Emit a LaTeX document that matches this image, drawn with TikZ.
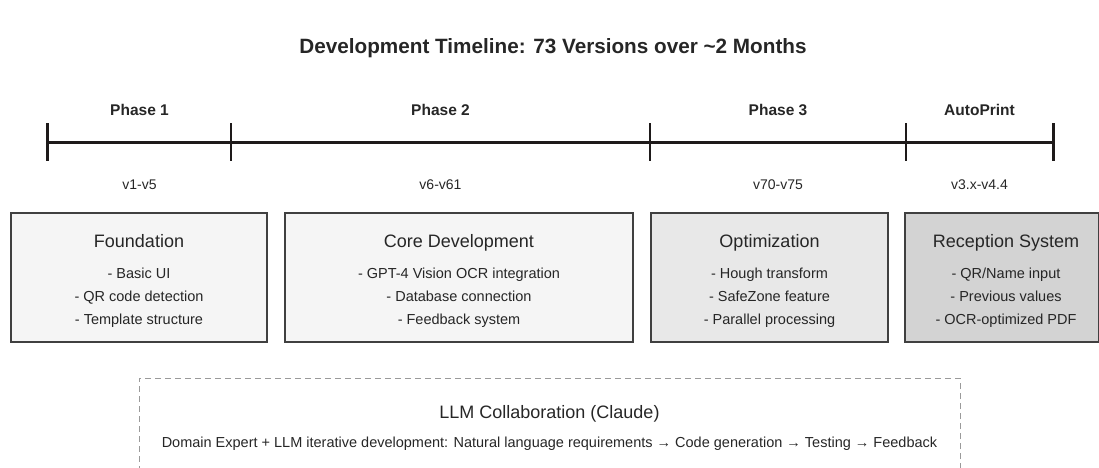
\documentclass[tikz,border=0pt]{standalone}
\usepackage{fontspec}
\setmainfont{Liberation Sans}
\definecolor{ink}{HTML}{262626}
\definecolor{rule}{HTML}{1E1A1A}
\definecolor{edge}{HTML}{404040}
\definecolor{fillA}{HTML}{F5F5F5}
\definecolor{fillB}{HTML}{E8E8E8}
\definecolor{fillC}{HTML}{D3D3D3}
\definecolor{dashgray}{HTML}{9A9A9A}
\begin{document}
\begin{tikzpicture}[x=1pt,y=-1pt,
  every node/.style={text=ink, inner sep=0pt},
  txt/.style={text height=0.72em, text depth=0pt},
  heading/.style={txt, font=\bfseries\fontsize{20.7}{24}\selectfont},
  phaselabel/.style={txt, font=\bfseries\fontsize{15.5}{18}\selectfont},
  verlabel/.style={txt, font=\fontsize{14}{16}\selectfont},
  axis/.style={draw=rule, line width=3pt},
  endtick/.style={draw=rule, line width=3pt},
  midtick/.style={draw=rule, line width=1.4pt},
  card/.style={draw=edge, line width=1.8pt, minimum height=129pt},
  cardtitle/.style={txt, font=\fontsize{18}{21}\selectfont},
  carditem/.style={txt, font=\fontsize{14.5}{17}\selectfont},
  llmbox/.style={draw=dashgray, line width=1pt, dash pattern=on 6pt off 4pt,
    minimum width=821pt, minimum height=140pt},
  llmtitle/.style={txt, font=\fontsize{18}{21}\selectfont},
  llmtext/.style={txt, font=\fontsize{14.5}{17}\selectfont}
]
\useasboundingbox (0,0) rectangle (1099,467);
\clip (0,0) rectangle (1099,467);

% heading
\node[heading] (head) at (553,50) {Development Timeline: 73 Versions over \textasciitilde2 Months};

% timeline axis and ticks
\coordinate (t0) at (47,142);
\coordinate (t1) at (231,142);
\coordinate (t2) at (650,142);
\coordinate (t3) at (906,142);
\coordinate (t4) at (1053,142);
\draw[axis] (t0) -- (t4);
\draw[endtick] (t0) ++(0,-19) -- ++(0,38);
\draw[endtick] (t4) ++(0,-19) -- ++(0,38);
\draw[midtick] (t1) ++(0,-19) -- ++(0,38);
\draw[midtick] (t2) ++(0,-19) -- ++(0,38);
\draw[midtick] (t3) ++(0,-19) -- ++(0,38);

% phase names above, version ranges below
\node[phaselabel] (ph1) at (139.5,112) {Phase 1};
\node[phaselabel] (ph2) at (440.5,112) {Phase 2};
\node[phaselabel] (ph3) at (778,112) {Phase 3};
\node[phaselabel] (ph4) at (979.5,112) {AutoPrint};
\node[verlabel] (vr1) at (139.5,186) {v1-v5};
\node[verlabel] (vr2) at (440.5,186) {v6-v61};
\node[verlabel] (vr3) at (778,186) {v70-v75};
\node[verlabel] (vr4) at (979.5,186) {v3.x-v4.4};

% phase cards
\node[card, fill=fillA, minimum width=256pt] (c1) at (139,277.5) {};
\node[card, fill=fillA, minimum width=348pt] (c2) at (459,277.5) {};
\node[card, fill=fillB, minimum width=237pt] (c3) at (769.5,277.5) {};
\node[card, fill=fillC, minimum width=194pt] (c4) at (1002,277.5) {};

\node[cardtitle] (c1t) at (139,244) {Foundation};
\node[carditem] (c1a) at (139,275) {- Basic UI};
\node[carditem] (c1b) at (139,298) {- QR code detection};
\node[carditem] (c1c) at (139,321) {- Template structure};

\node[cardtitle] (c2t) at (459,244) {Core Development};
\node[carditem] (c2a) at (459,275) {- GPT-4 Vision OCR integration};
\node[carditem] (c2b) at (459,298) {- Database connection};
\node[carditem] (c2c) at (459,321) {- Feedback system};

\node[cardtitle] (c3t) at (769.5,244) {Optimization};
\node[carditem] (c3a) at (769.5,275) {- Hough transform};
\node[carditem] (c3b) at (769.5,298) {- SafeZone feature};
\node[carditem] (c3c) at (769.5,321) {- Parallel processing};

\node[cardtitle] (c4t) at (1006,244) {Reception System};
\node[carditem] (c4a) at (1006,275) {- QR/Name input};
\node[carditem] (c4b) at (1006,298) {- Previous values};
\node[carditem] (c4c) at (1006,321) {- OCR-optimized PDF};

% collaboration panel
\node[llmbox] (llm) at (549.5,448) {};
\node[llmtitle] (llmt) at (549.5,415) {LLM Collaboration (Claude)};
\node[llmtext] (llmd) at (549.5,444) {Domain Expert + LLM iterative development: Natural language requirements → Code generation → Testing → Feedback};
\end{tikzpicture}
\end{document}
